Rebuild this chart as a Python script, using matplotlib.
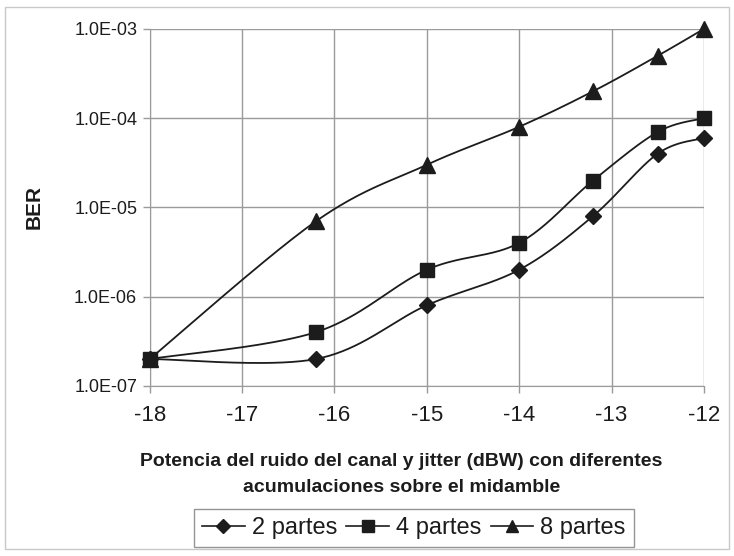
import numpy as np
import matplotlib.pyplot as plt
from matplotlib.lines import Line2D
from matplotlib.patches import Rectangle

# potencia de ruido (dBW)
x_dbw = [-18, -16.2, -15, -14, -13.2, -12.5, -12]

ber_2 = [2e-7, 2e-7, 8e-7, 2e-6, 8e-6, 4e-5, 6e-5]
ber_4 = [2e-7, 4e-7, 2e-6, 4e-6, 2e-5, 7e-5, 1e-4]
ber_8 = [2e-7, 7e-6, 3e-5, 8e-5, 2e-4, 5e-4, 1e-3]

series_labels = ["2 partes", "4 partes", "8 partes"]
series_markers = ["D", "s", "^"]

x_ticks = [-18, -17, -16, -15, -14, -13, -12]
y_ticks = [1e-7, 1e-6, 1e-5, 1e-4, 1e-3]
y_tick_labels = ["1.0E-07", "1.0E-06", "1.0E-05", "1.0E-04", "1.0E-03"]

INK = "#1c1c1c"
GRID = "#9a9a9a"
ARIAL = ["Liberation Sans", "DejaVu Sans"]


def smooth_curve(xs, ys, n=40):
    # curva suavizada tipo Excel (Bezier / Catmull-Rom) en espacio x, log10(y)
    px = np.asarray(xs, dtype=float)
    py = np.log10(np.asarray(ys, dtype=float))
    pts = np.column_stack([px, py])
    ext = np.vstack([pts[0], pts, pts[-1]])
    out = []
    t = np.linspace(0, 1, n)[:, None]
    for i in range(len(pts) - 1):
        p0 = ext[i + 1]
        p3 = ext[i + 2]
        p1 = p0 + (ext[i + 2] - ext[i]) / 6.0
        p2 = p3 - (ext[i + 3] - ext[i + 1]) / 6.0
        seg = ((1 - t) ** 3) * p0 + 3 * ((1 - t) ** 2) * t * p1 \
            + 3 * (1 - t) * t ** 2 * p2 + t ** 3 * p3
        out.append(seg if i == 0 else seg[1:])
    curve = np.vstack(out)
    return curve[:, 0], 10 ** curve[:, 1]


fig = plt.figure(figsize=(7.34, 5.56), dpi=100)
ax = fig.add_axes([0.204, 0.306, 0.755, 0.642])

# marco exterior
fig.patches.append(Rectangle((0.007, 0.012), 0.986, 0.976, transform=fig.transFigure,
                             fill=False, edgecolor="#c8c8c8", linewidth=1.0))

for ys, mk, lab in zip([ber_2, ber_4, ber_8], series_markers, series_labels):
    sx, sy = smooth_curve(x_dbw, ys)
    ax.plot(sx, sy, color=INK, linewidth=1.3, zorder=3, clip_on=False)
    ms = {"D": 8, "s": 10, "^": 11}[mk]
    ax.plot(x_dbw, ys, linestyle="none", marker=mk, markersize=ms,
            color=INK, zorder=4, clip_on=False)

ax.set_yscale("log")
ax.set_xlim(-18, -12)
ax.set_ylim(1e-7, 1e-3)
ax.set_xticks(x_ticks)
ax.set_xticklabels([str(v) for v in x_ticks], family=ARIAL, fontsize=16, color=INK)
ax.set_yticks(y_ticks)
ax.set_yticklabels(y_tick_labels, family=ARIAL, fontsize=13, color=INK)
ax.minorticks_off()
ax.grid(True, color=GRID, linewidth=1.0)
ax.set_axisbelow(True)
for side in ["top", "right"]:
    ax.spines[side].set_visible(False)
for side in ["left", "bottom"]:
    ax.spines[side].set_color(GRID)
ax.tick_params(axis="both", color=GRID, length=5, width=1.0, pad=4)
ax.tick_params(axis="x", pad=9)

ax.set_ylabel("BER", family=ARIAL, fontsize=15, fontweight="bold", color=INK, labelpad=22)
fig.text(0.547, 0.146, "Potencia del ruido del canal y jitter (dBW) con diferentes\n"
         "acumulaciones sobre el midamble", ha="center", va="center",
         family=ARIAL, fontsize=14, fontweight="bold", color=INK, linespacing=1.7)

handles = [Line2D([0], [0], color=INK, linewidth=1.2, marker=m,
                  markersize={"D": 7, "s": 8, "^": 9}[m]) for m in series_markers]
leg = fig.legend(handles, series_labels, loc="center", bbox_to_anchor=(0.564, 0.05),
                 ncol=3, frameon=True, fancybox=False, handlelength=1.8,
                 handletextpad=0.3, columnspacing=0.4, borderpad=0.35,
                 prop={"family": ARIAL, "size": 17})
leg.get_frame().set_edgecolor("#7a7a7a")
leg.get_frame().set_linewidth(1.0)
for t in leg.get_texts():
    t.set_color(INK)

fig.savefig("out.png", dpi=100, facecolor="white")
